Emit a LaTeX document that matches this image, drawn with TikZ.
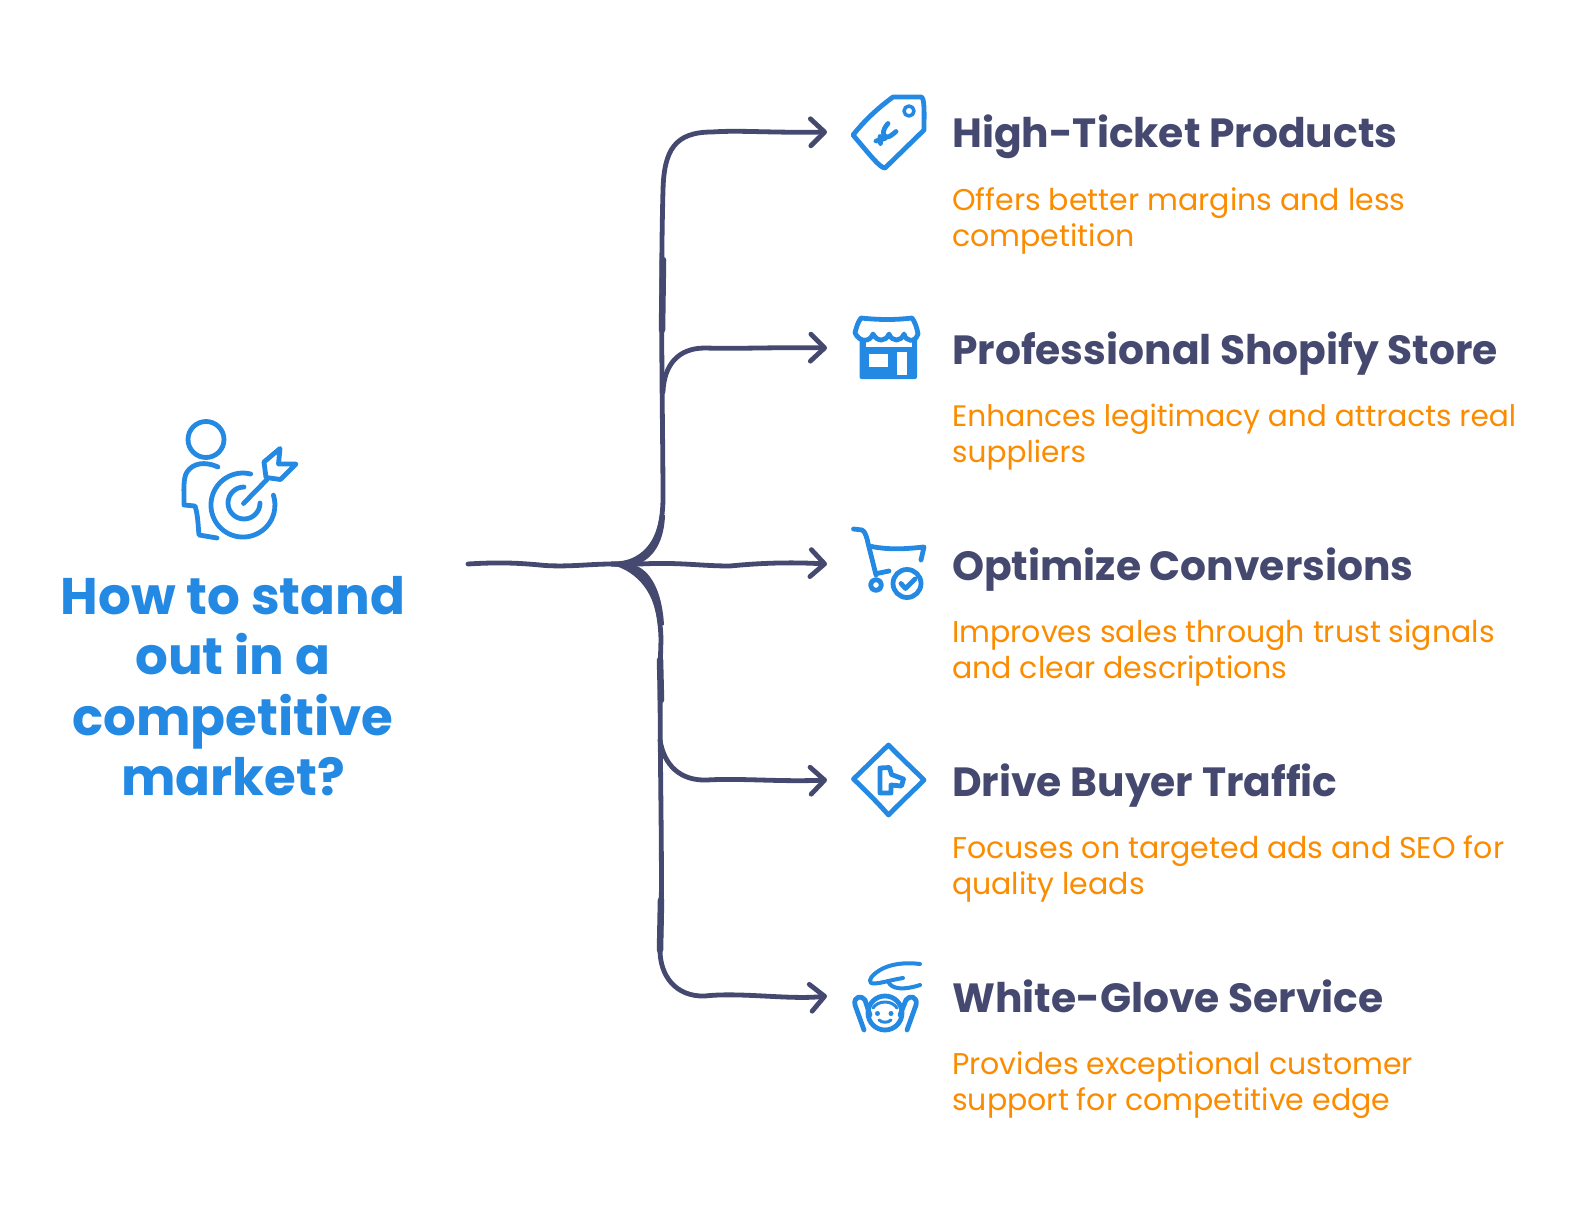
\documentclass[tikz,border=0pt]{standalone}
\usepackage{fontspec}
\setmainfont{Poppins}
\usetikzlibrary{arrows.meta}
\definecolor{ibl}{HTML}{2389E2}
\definecolor{idk}{HTML}{45496F}
\definecolor{ior}{HTML}{FB8C00}
\tikzset{
  x=1pt,y=-1pt,
  conn/.style={draw=idk,line width=4.8pt,line cap=round,line join=round},
  tipped/.style={conn,-{Straight Barb[length=14pt,width=27pt,round]}},
  ico/.style={draw=ibl,line width=4.8pt,line cap=round,line join=round},
  head/.style={anchor=base west,inner sep=0pt,text=idk,font=\fontsize{40.8}{41}\selectfont\bfseries},
  desc/.style={anchor=north west,inner sep=0pt,text=ior,align=left,font=\fontsize{30}{36}\selectfont},
  ttl/.style={anchor=north,inner sep=0pt,text=ibl,align=center,font=\fontsize{51.5}{60.4}\selectfont\bfseries}
}
\begin{document}
\begin{tikzpicture}
\useasboundingbox (0,0) rectangle (1596,1212);
\fill[white] (0,0) rectangle (1596,1212);
% title
\node[ttl] (title) at (233,576) {How to stand\\out in a\\competitive\\market?};
% rows
\node[head] (h1) at (952,148) {High-Ticket Products};
\node[desc] (d1) at (952,187) {Offers better margins and less\\competition};
\node[head] (h2) at (952,364) {Professional Shopify Store};
\node[desc,font=\fontsize{29.6}{36}\selectfont] (d2) at (952,403.5) {Enhances legitimacy and attracts real\\suppliers};
\node[head] (h3) at (952,580) {Optimize Conversions};
\node[desc] (d3) at (952,619.5) {Improves sales through trust signals\\and clear descriptions};
\node[head] (h4) at (952,796) {Drive Buyer Traffic};
\node[desc] (d4) at (952,835.5) {Focuses on targeted ads and SEO for\\quality leads};
\node[head] (h5) at (952,1012) {White-Glove Service};
\node[desc] (d5) at (952,1051.5) {Provides exceptional customer\\support for competitive edge};
% connectors
\coordinate (root) at (468,564);
\coordinate (hub) at (612,564);
\coordinate (a1) at (827,132);
\coordinate (a2) at (827,348);
\coordinate (a3) at (827,564);
\coordinate (a4) at (827,780);
\coordinate (a5) at (827,996);
\draw[conn] (root) .. controls (500,562) and (520,563) .. (545,565.5) .. controls (570,567) and (590,564) .. (hub);
\fill[idk] (610,564) .. controls (635,561) and (655,550) .. (660,515) -- (665,515) .. controls (664,548) and (648,562) .. (634,565) .. controls (650,570) and (662,590) .. (664,625) -- (658,625) .. controls (655,595) and (640,572) .. cycle;
\draw[tipped] (hub) -- (640,564) .. controls (680,562) and (700,566) .. (730,566) .. controls (760,563) and (790,562) .. (a3);
\draw[tipped] (hub) .. controls (640,564) and (662,550) .. (663,500) .. controls (663,430) and (660,300) .. (663,190) .. controls (664,150) and (675,132) .. (712,132) .. controls (740,130) and (770,133) .. (a1);
\draw[tipped] (663,392) .. controls (664,365) and (678,348) .. (705,348) .. controls (740,349) and (780,347) .. (a2);
\draw[tipped] (hub) .. controls (640,564) and (660,590) .. (661,640) .. controls (658,720) and (664,880) .. (660,950) .. controls (660,975) and (675,997) .. (705,996) .. controls (740,992) and (790,1000) .. (a5);
\draw[tipped] (660,740) .. controls (664,765) and (680,781) .. (707,780) .. controls (740,778) and (780,782) .. (a4);
\draw[idk,line width=6.5pt,line cap=round] (663,260) -- (662,330);
\draw[idk,line width=6.5pt,line cap=round] (660,660) -- (661,700);
\draw[idk,line width=6.5pt,line cap=round] (661,900) -- (660,950);
% target icon
\draw[ico] (206,439.5) circle[radius=18pt];
\draw[ico] (218,467) .. controls (205,461) and (193,463) .. (187,472) .. controls (183,478) and (184,490) .. (184,505) -- (195,506) .. controls (198,515) and (198,525) .. (199,535) -- (217,538);
\draw[ico] (250.7,474) arc[start angle=76,end angle=378,radius=32pt];
\draw[ico] (244,487) arc[start angle=90,end angle=360,radius=16pt];
\draw[ico] (243.5,503.5) -- (267,479.5);
\draw[ico] (264,462) -- (280,448.5) -- (278.5,464) -- (296,464) -- (280.5,479.5) -- (266,477.5) -- cycle;
% tag icon
\draw[ico] (853,135) .. controls (865,120) and (878,108) .. (893,97) -- (921,97) .. controls (925,97) and (924,115) .. (924,130) -- (885,168) .. controls (880,168) and (870,155) .. (853,135) -- cycle;
\draw[ico,line width=3.5pt] (909,111) circle[radius=5pt];
\draw[ico] (888,123.5) .. controls (882,130) and (882,137) .. (887,137) .. controls (890,137) and (893,134) .. (896,131.5);
\draw[ico] (876,141) -- (885,138.5);
\draw[ico] (880,136.5) -- (880.5,143.5);
% store icon
\fill[ibl,rounded corners=2pt] (859.5,334) rectangle (917,379);
\fill[white] (868.5,354) rectangle (887.5,366.5);
\fill[white] (896.5,352) rectangle (907,375);
\fill[white] (865.5,336) rectangle (911.5,346.5);
\draw[ico,fill=white] (861,318) .. controls (880,320) and (895,320) .. (912,318) .. controls (915,322) and (917,328) .. (918,334) .. controls (915,343) and (906,342) .. (904,334) .. controls (901,342) and (892,342) .. (889,334) .. controls (886,342) and (877,342) .. (873,334) .. controls (870,342) and (860,343) .. (855,333) .. controls (856,328) and (858,322) .. (861,318) -- cycle;
% cart icon
\draw[ico] (853.5,529) -- (862,530) .. controls (865,531) and (867,538) .. (868,543) -- (876,575);
\draw[ico] (871.5,546.5) .. controls (890,550) and (905,549) .. (924,547) -- (921,560);
\draw[ico] (877,573.5) -- (889,571);
\draw[ico] (876,585) circle[radius=5.5pt];
\draw[ico] (907,583.5) circle[radius=14pt];
\draw[ico] (901,583.5) -- (905.5,588.5) -- (915,579);
% sign icon
\draw[ico] (853.5,779) .. controls (865,768) and (878,755) .. (888.5,745) .. controls (900,757) and (912,768) .. (924,780) .. controls (912,792) and (900,803) .. (888.5,815) .. controls (878,803) and (865,790) .. cycle;
\draw[ico] (880,768) -- (889.5,767.5) -- (891.5,774.5) -- (903.5,779) -- (901.5,786) -- (891,785) -- (891,793) -- (880,793) -- cycle;
% glove icon
\draw[ico,line width=4pt] (920,964) .. controls (905,962) and (890,964) .. (880,970) .. controls (872,975) and (868,980) .. (871,983) .. controls (876,985) and (890,980) .. (903,978);
\draw[ico,line width=4pt] (888,981) .. controls (891,990) and (905,990) .. (920,985);
\draw[ico] (885,1013) circle[radius=17pt];
\draw[ico,line width=3pt] (873,1008) .. controls (878,1000) and (892,1000) .. (897,1008);
\fill[ibl] (877.5,1013.5) circle[radius=2.5pt] (891,1013.5) circle[radius=2.5pt];
\draw[ico,line width=3pt] (879,1020) .. controls (882,1023) and (888,1023) .. (891,1020);
\draw[ico] (864,1030) -- (855,1005) .. controls (853,996) and (862,995) .. (865,1000) -- (870,1015);
\draw[ico] (907,1030) -- (916,1005) .. controls (918,996) and (909,995) .. (906,1000) -- (900,1015);
\end{tikzpicture}
\end{document}
